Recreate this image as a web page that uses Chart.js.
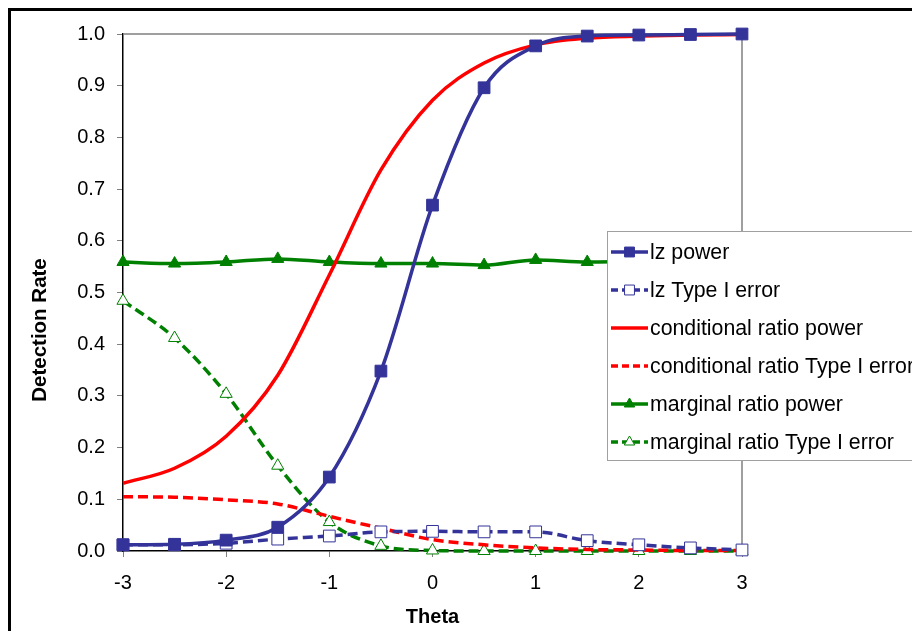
<!DOCTYPE html>
<html>
<head>
<meta charset="utf-8">
<script src="https://cdn.jsdelivr.net/npm/chart.js@4"></script>
<style>
  html, body { margin: 0; padding: 0; background: #fff; overflow: hidden; }
  #wrap { width: 912px; height: 631px; }
</style>
</head>
<body>
<div id="wrap"><canvas id="chart" width="912" height="631"></canvas></div>
<script>
const theta = [-3, -2.5, -2, -1.5, -1, -0.5, 0, 0.5, 1, 1.5, 2, 2.5, 3];

const lzPower = [0.012, 0.013, 0.021, 0.046, 0.143, 0.348, 0.669, 0.896, 0.977, 0.996, 0.998, 0.999, 1.0];
const lzType1 = [0.012, 0.012, 0.015, 0.023, 0.029, 0.037, 0.038, 0.037, 0.037, 0.020, 0.012, 0.006, 0.002];
const condPower = [0.131, 0.160, 0.222, 0.340, 0.534, 0.737, 0.872, 0.944, 0.979, 0.992, 0.996, 0.998, 0.999];
const condType1 = [0.105, 0.104, 0.099, 0.091, 0.067, 0.044, 0.022, 0.012, 0.006, 0.003, 0.002, 0.001, 0.001];
const margPower = [0.559, 0.556, 0.559, 0.565, 0.559, 0.556, 0.556, 0.553, 0.563, 0.559, 0.560, 0.560, 0.560];
const margType1 = [0.484, 0.412, 0.304, 0.165, 0.056, 0.010, 0.001, 0.000, 0.000, 0.000, 0.000, 0.000, 0.000];

const seriesNames = [
  "lz power",
  "lz Type I error",
  "conditional ratio power",
  "conditional ratio Type I error",
  "marginal ratio power",
  "marginal ratio Type I error"
];

const yTitle = "Detection Rate";
const xTitle = "Theta";

const NAVY = "#333399";
const RED = "#ff0000";
const GREEN = "#008000";
const FONT = "'Liberation Sans', Arial, sans-serif";

function pts(values) {
  return values.map((v, i) => ({ x: theta[i], y: v }));
}

function series(label, values, color, dashed, style, filled) {
  return {
    label: label,
    data: pts(values),
    borderColor: color,
    borderWidth: 3.5,
    borderDash: dashed ? [10, 5] : [],
    cubicInterpolationMode: "monotone",
    pointStyle: style || false,
    pointRadius: style ? (style === "triangle" ? 7 : 8.3) : 0,
    pointBackgroundColor: filled ? color : "#ffffff",
    pointBorderColor: color,
    pointBorderWidth: 1,
    clip: 10
  };
}

const datasets = [
  series(seriesNames[0], lzPower, NAVY, false, "rect", true),
  series(seriesNames[1], lzType1, NAVY, true, "rect", false),
  series(seriesNames[2], condPower, RED, false, null, true),
  series(seriesNames[3], condType1, RED, true, null, true),
  series(seriesNames[4], margPower, GREEN, false, "triangle", true),
  series(seriesNames[5], margType1, GREEN, true, "triangle", false)
];

// page frame, plot-area border, y title and the boxed legend
const decorations = {
  id: "decorations",
  beforeDraw(chart) {
    const ctx = chart.ctx;
    ctx.save();
    ctx.fillStyle = "#fff";
    ctx.fillRect(0, 0, chart.width, chart.height);
    ctx.strokeStyle = "#000";
    ctx.lineWidth = 3;
    ctx.strokeRect(9.5, 9.5, 1000, 1000);

    ctx.translate(40, 330);
    ctx.rotate(-Math.PI / 2);
    ctx.fillStyle = "#000";
    ctx.font = "bold 20.5px " + FONT;
    ctx.textAlign = "center";
    ctx.textBaseline = "middle";
    ctx.fillText(yTitle, 0, 0);
    ctx.restore();
  },
  beforeDatasetsDraw(chart) {
    const a = chart.chartArea;
    const ctx = chart.ctx;
    ctx.save();
    ctx.strokeStyle = "#808080";
    ctx.lineWidth = 1.5;
    ctx.beginPath();
    ctx.moveTo(a.left, a.top);
    ctx.lineTo(a.right, a.top);
    ctx.lineTo(a.right, a.bottom);
    ctx.stroke();
    ctx.restore();
  },
  afterDraw(chart) {
    const ctx = chart.ctx;
    const bx = 607, by = 231, bw = 400, bh = 229;
    ctx.save();
    ctx.fillStyle = "#fff";
    ctx.fillRect(bx, by, bw, bh);
    ctx.strokeStyle = "#a0a0a0";
    ctx.lineWidth = 1;
    ctx.strokeRect(bx + 0.5, by + 0.5, bw, bh);
    ctx.font = "21.3px " + FONT;
    ctx.textBaseline = "middle";
    chart.data.datasets.forEach((ds, i) => {
      const y = 252 + i * 38;
      ctx.strokeStyle = ds.borderColor;
      ctx.lineWidth = 3.5;
      ctx.setLineDash(ds.borderDash.length ? [7, 4] : []);
      ctx.beginPath();
      ctx.moveTo(611, y);
      ctx.lineTo(648, y);
      ctx.stroke();
      ctx.setLineDash([]);
      if (ds.pointStyle) {
        ctx.fillStyle = ds.pointBackgroundColor;
        ctx.strokeStyle = ds.pointBorderColor;
        ctx.lineWidth = 1;
        Chart.helpers.drawPoint(ctx, {
          pointStyle: ds.pointStyle,
          radius: ds.pointStyle === "triangle" ? 6 : 7,
          rotation: 0,
          borderWidth: 1
        }, 629.5, y);
      }
      ctx.fillStyle = "#000";
      ctx.fillText(ds.label, 650, y + 1);
    });
    ctx.restore();
  }
};

new Chart(document.getElementById("chart"), {
  type: "line",
  data: { datasets: datasets },
  options: {
    responsive: false,
    animation: false,
    layout: { padding: { left: 0, top: 34, right: 170, bottom: 0 } },
    plugins: {
      legend: { display: false },
      tooltip: { enabled: false }
    },
    scales: {
      x: {
        type: "linear",
        min: -3,
        max: 3,
        afterFit: (s) => { s.height = 80; },
        ticks: {
          stepSize: 1,
          color: "#000",
          padding: 14,
          font: { family: FONT, size: 20 }
        },
        grid: { drawOnChartArea: false, tickLength: 6, tickColor: "#808080" },
        border: { color: "#000", width: 1.5 },
        title: {
          display: true,
          text: xTitle,
          color: "#000",
          font: { family: FONT, size: 20, weight: "bold" },
          padding: { top: 0, bottom: 2 }
        }
      },
      y: {
        min: 0,
        max: 1,
        afterFit: (s) => { s.width = 123; },
        ticks: {
          stepSize: 0.1,
          color: "#000",
          padding: 12,
          font: { family: FONT, size: 20 },
          callback: (v) => v.toFixed(1)
        },
        grid: { drawOnChartArea: false, tickLength: 6, tickColor: "#808080" },
        border: { color: "#000", width: 1.5 }
      }
    }
  },
  plugins: [decorations]
});
</script>
</body>
</html>
